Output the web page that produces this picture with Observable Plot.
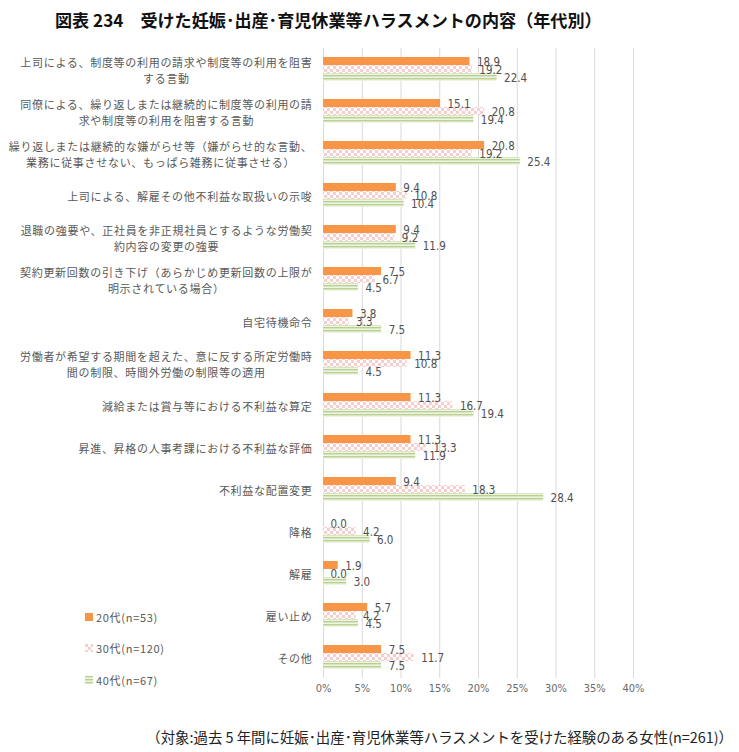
<!DOCTYPE html>
<html>
<head>
<meta charset="utf-8">
<script src="https://cdn.jsdelivr.net/npm/d3@7"></script>
<script src="https://cdn.jsdelivr.net/npm/@observablehq/plot@0.6"></script>
<style>
  body { margin: 0; background: #fff; font-family: "Noto Sans CJK JP", sans-serif; }
  #wrap { position: relative; width: 739px; height: 752px; overflow: hidden; }
  #title { height: 38px; line-height: 40px; padding-left: 55px; font-size: 17.1px; font-weight: bold; color: #111; white-space: nowrap; }
  #chart svg { display: block; }
  #legend { position: absolute; left: 85px; top: 601px; font-size: 11px; letter-spacing: 0.7px; color: #595959; }
  #legend .row { height: 31.5px; display: flex; align-items: center; }
  #legend svg { margin-right: 3px; }
  #caption { position: absolute; right: 6px; top: 726px; font-size: 14.4px; color: #222; white-space: nowrap; }
</style>
</head>
<body>
<svg width="0" height="0" style="position:absolute">
  <defs>
    <pattern id="dots" patternUnits="userSpaceOnUse" width="6" height="6">
      <rect width="6" height="6" fill="#ffffff"></rect>
      <rect width="3" height="3" fill="#f7cdcd"></rect>
      <rect x="3" y="3" width="3" height="3" fill="#f7cdcd"></rect>
    </pattern>
    <pattern id="stripes" patternUnits="userSpaceOnUse" width="4" height="3">
      <rect width="4" height="3" fill="#eef4e3"></rect>
      <rect width="4" height="1.4" fill="#b9d08f"></rect>
    </pattern>
  </defs>
</svg>
<div id="wrap">
  <div id="title">図表 234　受けた妊娠･出産･育児休業等ハラスメントの内容（年代別）</div>
  <div id="chart"></div>
  <div id="legend"></div>
  <div id="caption">（対象:過去 5 年間に妊娠･出産･育児休業等ハラスメントを受けた経験のある女性(n=261)）</div>
</div>
<script>
// Harassment types (line breaks as shown in the axis labels)
const categories = [
  "上司による、制度等の利用の請求や制度等の利用を阻害\nする言動",
  "同僚による、繰り返しまたは継続的に制度等の利用の請\n求や制度等の利用を阻害する言動",
  "繰り返しまたは継続的な嫌がらせ等（嫌がらせ的な言動、\n業務に従事させない、もっぱら雑務に従事させる）",
  "上司による、解雇その他不利益な取扱いの示唆",
  "退職の強要や、正社員を非正規社員とするような労働契\n約内容の変更の強要",
  "契約更新回数の引き下げ（あらかじめ更新回数の上限が\n明示されている場合）",
  "自宅待機命令",
  "労働者が希望する期間を超えた、意に反する所定労働時\n間の制限、時間外労働の制限等の適用",
  "減給または賞与等における不利益な算定",
  "昇進、昇格の人事考課における不利益な評価",
  "不利益な配置変更",
  "降格",
  "解雇",
  "雇い止め",
  "その他"
];

const series = ["20代(n=53)", "30代(n=120)", "40代(n=67)"];

// Percentages by age group
const values20s = [18.9, 15.1, 20.8, 9.4, 9.4, 7.5, 3.8, 11.3, 11.3, 11.3, 9.4, 0.0, 1.9, 5.7, 7.5];
const values30s = [19.2, 20.8, 19.2, 10.8, 9.2, 6.7, 3.3, 10.8, 16.7, 13.3, 18.3, 4.2, 0.0, 4.2, 11.7];
const values40s = [22.4, 19.4, 25.4, 10.4, 11.9, 4.5, 7.5, 4.5, 19.4, 11.9, 28.4, 6.0, 3.0, 4.5, 7.5];

const xTicks = [0, 5, 10, 15, 20, 25, 30, 35, 40];
const fills = ["#f79646", "url(#dots)", "url(#stripes)"];

const valueSets = [values20s, values30s, values40s];
const rows = categories.flatMap((category, i) =>
  series.map((s, j) => ({category, series: s, value: valueSets[j][i]}))
);

const numFont = '"Liberation Sans Narrow", "DejaVu Sans Condensed", "Liberation Sans", sans-serif';

const chart = Plot.plot({
  width: 739,
  height: 672,
  marginTop: 3,
  marginBottom: 25,
  marginLeft: 323,
  marginRight: 106,
  style: {fontFamily: '"Noto Sans CJK JP", sans-serif', background: "transparent"},
  x: {domain: [0, 40]},
  fy: {domain: categories, padding: 0, axis: null},
  y: {domain: series, paddingInner: 0, paddingOuter: 1.03, axis: null},
  color: {domain: series, range: fills},
  marks: [
    Plot.gridX(xTicks, {stroke: "#d9d9d9", strokeOpacity: 1}),
    Plot.barX(rows, {x: "value", y: "series", fy: "category", fill: "series"}),
    Plot.text(rows, {
      x: "value", y: "series", fy: "category",
      text: d => d.value.toFixed(1),
      dx: 7, dy: 0.5, textAnchor: "start",
      fill: "#505050", fontSize: 11.5, fontFamily: numFont
    }),
    Plot.text(categories, {
      fy: d => d, text: d => d,
      frameAnchor: "left", dx: -11, textAnchor: "end",
      lineHeight: 1.5, fontSize: 11, fill: "#595959"
    }),
    Plot.axisX(xTicks, {
      tickSize: 0, tickPadding: 6, label: null,
      tickFormat: d => d + "%",
      fontSize: 11, fontFamily: numFont, fill: "#6a6a6a"
    })
  ]
});

document.getElementById("chart").append(chart);

// Category labels: spaced glyphs, lines centred on each other, block right-aligned
chart.querySelectorAll("text").forEach(t => {
  const spans = t.querySelectorAll("tspan");
  if (!spans.length && !/[\u3000-\u9fff]/.test(t.textContent)) return;
  t.style.letterSpacing = "0.7px";
  if (spans.length > 1) {
    const widths = Array.from(spans, s => s.getComputedTextLength());
    const w = Math.max(...widths);
    spans.forEach((s, i) => s.setAttribute("x", -(w - widths[i]) / 2));
  }
});

// Legend
const legend = d3.select("#legend");
series.forEach((s, i) => {
  const row = legend.append("div").attr("class", "row");
  const sw = row.append("svg").attr("width", 8).attr("height", 8);
  sw.append("rect").attr("width", 8).attr("height", 8).attr("fill", fills[i]);
  row.append("span").text(s);
});
</script>
</body>
</html>
